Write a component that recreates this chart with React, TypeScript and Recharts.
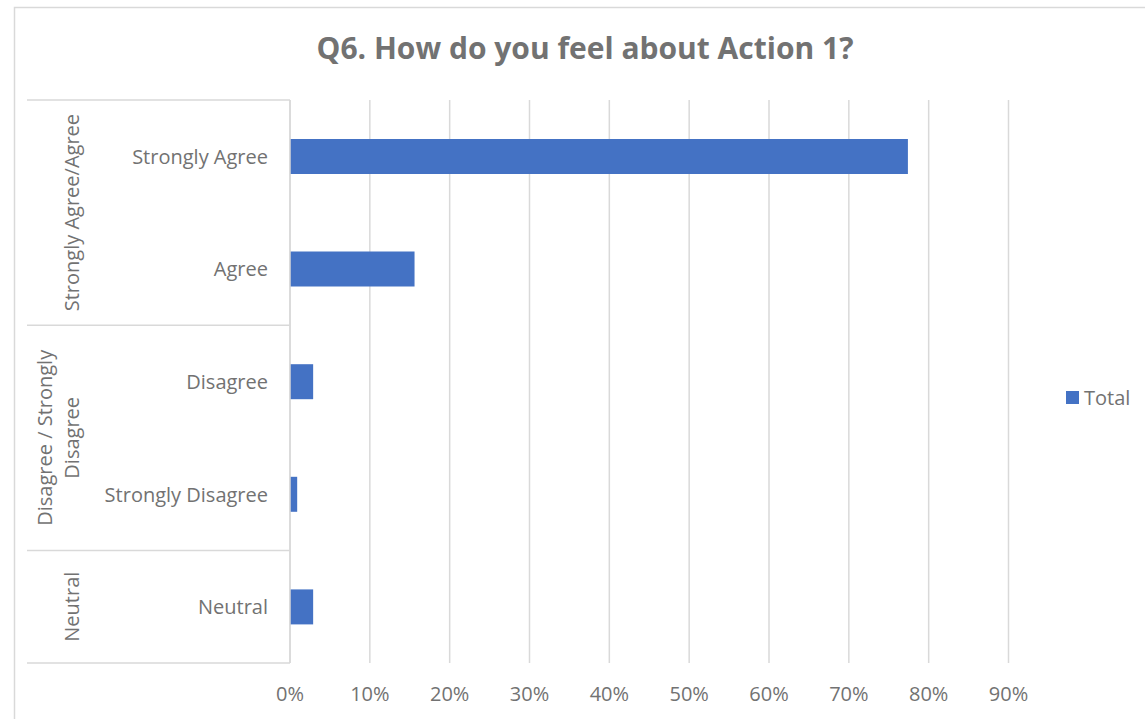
import React from "react";
import { BarChart, Bar, XAxis, YAxis, CartesianGrid, Legend } from "recharts";

// ---- data ----
const categories = ["Strongly Agree", "Agree", "Disagree", "Strongly Disagree", "Neutral"];
const groups = [
  "Strongly Agree/Agree",
  "Strongly Agree/Agree",
  "Disagree / Strongly Disagree",
  "Disagree / Strongly Disagree",
  "Neutral",
];
const groupLabelLines: Record<string, string[]> = {
  "Strongly Agree/Agree": ["Strongly Agree/Agree"],
  "Disagree / Strongly Disagree": ["Disagree / Strongly", "Disagree"],
  Neutral: ["Neutral"],
};
const totals = [0.774, 0.156, 0.029, 0.009, 0.029];
const xTicks = [0, 0.1, 0.2, 0.3, 0.4, 0.5, 0.6, 0.7, 0.8, 0.9];
const seriesName = "Total";
const title = "Q6. How do you feel about Action 1?";

const data = categories.map((c, i) => ({ label: c, group: groups[i], total: totals[i] }));

// ---- layout / style ----
const W = 1145;
const H = 719;
const PLOT_TOP = 100;
const PLOT_BOTTOM = 663;
const AXIS_X = 290;
const PLOT_RIGHT = 1008.5;
const GROUP_LEFT = 27;
const TEXT = "#727272";
const LINE = "#d9d9d9";
const BAR = "#4472C4";
const FONT = "'Open Sans', sans-serif";
const FS = 20;

function CategoryTick(props: any) {
  const { y, payload } = props;
  const i: number = props.index ?? payload.index ?? categories.indexOf(payload.value);
  const step = (PLOT_BOTTOM - PLOT_TOP) / categories.length;
  const els: React.ReactNode[] = [
    <text
      key="lbl"
      x={AXIS_X - 22}
      y={y}
      textAnchor="end"
      dominantBaseline="central"
      fill={TEXT}
      fontSize={FS}
      fontFamily={FONT}
    >
      {payload.value}
    </text>,
  ];
  const g = groups[i];
  if (i === 0 || groups[i - 1] !== g) {
    let count = 0;
    for (let j = i; j < groups.length && groups[j] === g; j++) count++;
    const top = y - step / 2;
    const center = top + (count * step) / 2;
    els.push(<line key="top" x1={GROUP_LEFT} x2={AXIS_X} y1={top} y2={top} stroke={LINE} strokeWidth={1.5} />);
    const lines = groupLabelLines[g] || [g];
    lines.forEach((ln, k) => {
      const gx = 72 - (lines.length - 1 - k) * 27;
      els.push(
        <text
          key={"g" + k}
          x={gx}
          y={center}
          textAnchor="middle"
          dominantBaseline="central"
          transform={`rotate(-90, ${gx}, ${center})`}
          fill={TEXT}
          fontSize={FS}
          fontFamily={FONT}
        >
          {ln}
        </text>
      );
    });
  }
  if (i === categories.length - 1) {
    const bottom = y + step / 2;
    els.push(<line key="bot" x1={GROUP_LEFT} x2={AXIS_X} y1={bottom} y2={bottom} stroke={LINE} strokeWidth={1.5} />);
  }
  return <g>{els}</g>;
}

function PercentTick(props: any) {
  const { x, payload } = props;
  return (
    <text
      x={x}
      y={PLOT_BOTTOM + 30}
      textAnchor="middle"
      dominantBaseline="central"
      fill={TEXT}
      fontSize={FS}
      fontFamily={FONT}
    >
      {Math.round(payload.value * 100) + "%"}
    </text>
  );
}

function LegendContent(props: any) {
  const items = props.payload || [];
  return (
    <div style={{ display: "flex", flexDirection: "column" }}>
      {items.map((it: any) => (
        <div key={it.value} style={{ display: "flex", alignItems: "center", height: 22 }}>
          <div style={{ width: 13, height: 13, background: it.color || BAR, marginRight: 5 }} />
          <span style={{ color: TEXT, fontSize: FS, fontFamily: FONT, lineHeight: "22px" }}>{it.value}</span>
        </div>
      ))}
    </div>
  );
}

export default function App() {
  return (
    <div
      style={{
        position: "fixed",
        left: 0,
        top: 0,
        width: W,
        height: H,
        overflow: "hidden",
        background: "#fff",
      }}
    >
      <svg width={W} height={H} style={{ position: "absolute", left: 0, top: 0 }}>
        <rect x={14.5} y={7.5} width={1300} height={900} fill="none" stroke={LINE} strokeWidth={1.5} />
        <text
          x={585}
          y={58.5}
          textAnchor="middle"
          fill={TEXT}
          fontSize={30}
          fontWeight={700}
          fontFamily={FONT}
        >
          {title}
        </text>
      </svg>
      <div style={{ position: "absolute", left: 0, top: 0 }}>
        <BarChart
          width={W}
          height={H}
          data={data}
          layout="vertical"
          margin={{ top: PLOT_TOP, right: W - PLOT_RIGHT, bottom: H - PLOT_BOTTOM - 30, left: 0 }}
        >
          <CartesianGrid horizontal={false} vertical={true} stroke={LINE} strokeWidth={1.5} />
          <XAxis
            type="number"
            domain={[0, 0.9]}
            ticks={xTicks}
            axisLine={false}
            tickLine={false}
            height={30}
            tick={<PercentTick />}
            interval={0}
          />
          <YAxis
            type="category"
            dataKey="label"
            width={AXIS_X}
            axisLine={{ stroke: LINE, strokeWidth: 1.5 }}
            tickLine={false}
            tick={<CategoryTick />}
            interval={0}
          />
          <Legend
            layout="horizontal"
            verticalAlign="middle"
            align="center"
            content={<LegendContent />}
            wrapperStyle={{ left: 1066, top: 386.5, width: 80, height: 22 }}
          />
          <Bar dataKey="total" name={seriesName} fill={BAR} barSize={35} isAnimationActive={false} />
        </BarChart>
      </div>
    </div>
  );
}
